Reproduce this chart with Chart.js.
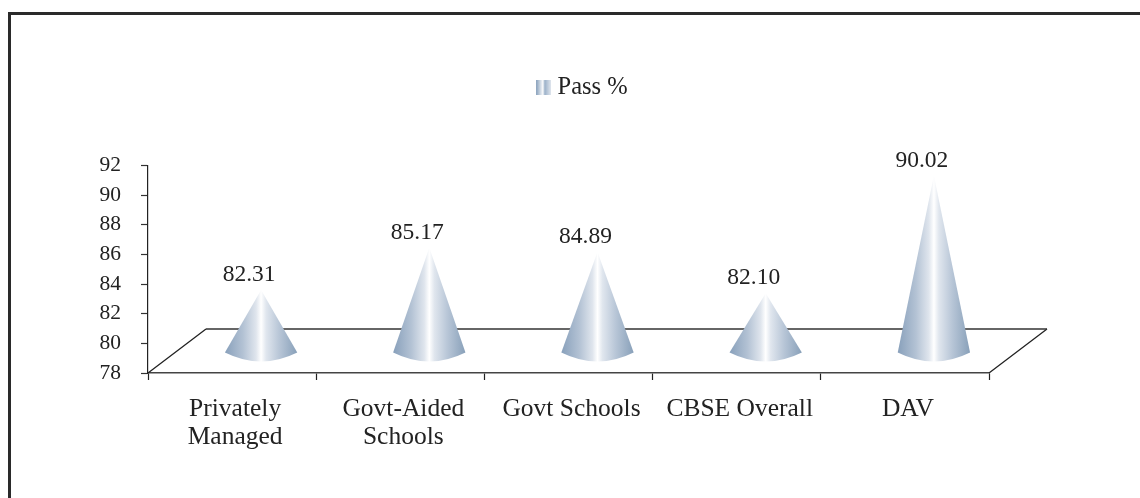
<!DOCTYPE html>
<html><head><meta charset="utf-8">
<style>
html,body{margin:0;padding:0;background:#fff;overflow:hidden}
#frame{position:absolute;left:8px;top:12px;width:1132px;height:486px;border-left:3px solid #2a2a2a;border-top:3px solid #2a2a2a;box-sizing:border-box}
#wrap{position:absolute;left:24px;top:0;width:1116px;height:498px}
</style>
<script src="https://cdn.jsdelivr.net/npm/chart.js@4/dist/chart.umd.js"></script>
</head><body>
<div id="frame"></div>
<div id="wrap"><canvas id="c" width="1116" height="498"></canvas></div>
<script>
const categories = [["Privately","Managed"],["Govt-Aided","Schools"],"Govt Schools","CBSE Overall","DAV"];
const passPercent = [82.31,85.17,84.89,82.10,90.02];
const yTicks = [78,80,82,84,86,88,90,92];
const seriesName = "Pass %";

const FONT = "'Liberation Serif', serif";
const TEXT = "#222222";
const DX = 29, DY = 20;
function coneGradient(ctx, x0, x1){
  const g = ctx.createLinearGradient(x0,0,x1,0);
  g.addColorStop(0,"#88a0bb");
  g.addColorStop(0.25,"#b3c2d4");
  g.addColorStop(0.43,"#dfe5ed");
  g.addColorStop(0.5,"#ffffff");
  g.addColorStop(0.57,"#e0e6ee");
  g.addColorStop(0.75,"#b8c6d7");
  g.addColorStop(1,"#88a0b9");
  return g;
}
const floorPlugin = {
  id:"floor",
  beforeDatasetsDraw(chart){
    const {ctx,chartArea:a} = chart;
    const b=a.bottom,l=a.left,r=a.right,d=44,s=58;
    ctx.save();
    ctx.lineWidth=1.3;
    ctx.strokeStyle="#222";
    ctx.beginPath();
    ctx.moveTo(l,b);ctx.lineTo(l+s,b-d);
    ctx.moveTo(r,b);ctx.lineTo(r+s,b-d);
    ctx.stroke();
    ctx.lineWidth=1.5;
    ctx.strokeStyle="#333";
    ctx.beginPath();
    ctx.moveTo(l+s,b-d);ctx.lineTo(r+s,b-d);
    ctx.stroke();
    ctx.restore();
  }
};
const conePlugin = {
  id:"cones",
  afterDatasetsDraw(chart){
    const {ctx} = chart;
    chart.getDatasetMeta(0).data.forEach((el,i)=>{
      const cx = el.x+DX, hw = el.width/2;
      const tip = el.y-DY+1, edge = el.base-DY, ctrl = el.base-2;
      ctx.save();
      ctx.fillStyle = coneGradient(ctx,cx-hw,cx+hw);
      ctx.beginPath();
      ctx.moveTo(cx,tip);
      ctx.lineTo(cx+hw,edge);
      ctx.quadraticCurveTo(cx,ctrl,cx-hw,edge);
      ctx.closePath();
      ctx.fill();
      ctx.font="23.5px "+FONT;
      ctx.fillStyle=TEXT;
      ctx.textAlign="center";
      ctx.textBaseline="alphabetic";
      ctx.fillText(passPercent[i].toFixed(2),cx-12,tip-9);
      ctx.restore();
    });
  }
};
const legendShift = {
  id:"legendShift",
  afterLayout(chart){ const l=chart.legend; l.left+=78.5; l.right+=78.5; l.top-=56; l.bottom-=56; }
};
new Chart(document.getElementById("c"),{
  type:"bar",
  data:{labels:categories,datasets:[{label:seriesName,data:passPercent,base:yTicks[0],backgroundColor:"rgba(0,0,0,0)",
    categoryPercentage:1,barPercentage:0.43}]},
  plugins:[floorPlugin,conePlugin,legendShift],
  options:{
    responsive:false,animation:false,
    layout:{padding:{left:0,right:151,top:121,bottom:0}},
    plugins:{
      tooltip:{enabled:false},
      legend:{
        position:"top",
        labels:{
          font:{family:FONT,size:24.5},color:TEXT,
          boxWidth:15,boxHeight:15,padding:10,
          usePointStyle:true,pointStyleWidth:3,
          generateLabels(chart){
            const cv=document.createElement("canvas");cv.width=15;cv.height=15;
            const cc=cv.getContext("2d");
            const g=cc.createLinearGradient(0,0,15,0);
            g.addColorStop(0,"#8aa2bd");g.addColorStop(.45,"#ffffff");g.addColorStop(.55,"#9ab0c8");g.addColorStop(1,"#e4e9f0");
            cc.fillStyle=g;cc.fillRect(0,0,15,15);
            return [{text:seriesName,pointStyle:cv,fontColor:TEXT,datasetIndex:0,hidden:false,lineWidth:0}];
          }
        }
      }
    },
    scales:{
      x:{
        offset:true,
        border:{color:"#444",width:1.5},
        grid:{display:true,drawOnChartArea:false,offset:true,color:"#222",tickLength:7,tickWidth:1.2},
        ticks:{font:{family:FONT,size:25.5,lineHeight:1.1},color:TEXT,maxRotation:0,autoSkip:false,padding:15,labelOffset:3},
        afterFit(s){s.height=125;}
      },
      y:{
        min:78,max:92,
        border:{color:"#222",width:1.2},
        grid:{display:true,drawOnChartArea:false,color:"#333",tickLength:7,tickWidth:1.2},
        afterBuildTicks(s){s.ticks=yTicks.map(v=>({value:v}));},
        ticks:{font:{family:FONT,size:21.5},color:TEXT,padding:20},
        afterFit(s){s.width=124;}
      }
    }
  }
});
</script>
</body></html>
